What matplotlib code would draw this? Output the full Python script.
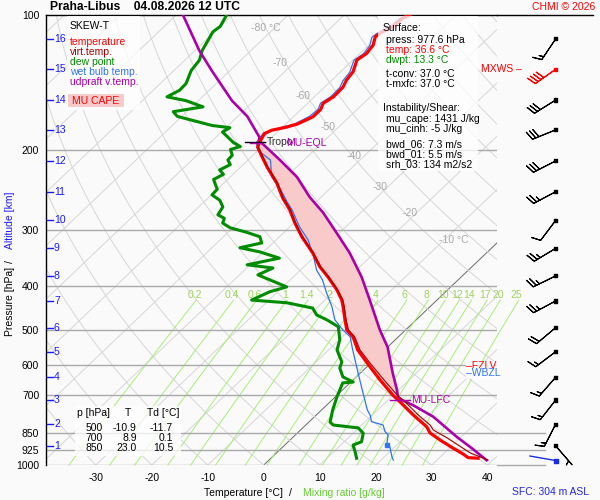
import numpy as np
import matplotlib
matplotlib.use("Agg")
import matplotlib.pyplot as plt
import matplotlib.transforms as mtransforms
from matplotlib.patches import Rectangle
from matplotlib.ticker import FixedLocator, NullLocator

plt.rcParams['font.family'] = ['Liberation Sans', 'DejaVu Sans']
plt.rcParams['font.size'] = 7.5

# --- sounding, pressure in hPa, temperatures in deg C ---
t_p = [966, 963, 945, 917, 880, 849, 822, 774, 724, 699, 647, 593, 555, 519, 501,
       476, 445, 430, 408, 382, 363, 338, 311, 290, 271, 255, 236, 218, 205, 196.6,
       191.6, 183.5, 180.4, 177.5, 174.6, 168.3, 162.2, 157.1, 152.1, 144.6, 139.6,
       133.6, 125.9, 121.8, 116.6, 111.7, 109.8, 106, 101.7, 100]
t_c = [37.0, 35.1, 33.5, 30.6, 26.8, 23.7, 21.9, 17.3, 12.5, 9.9, 4.8, -0.7, -4.8, -8.1, -10.5,
       -12.7, -15.5, -17.0, -19.8, -23.8, -27.1, -31.0, -36.0, -39.8, -43.2, -46.7, -50.6, -55.2, -58.5, -60.7,
       -61.3, -62.0, -61.4, -59.3, -57.9, -56.5, -56.5, -57.2, -56.6, -56.7, -57.4,
       -57.8, -59.3, -58.8, -59.2, -60.4, -60.2, -59.1, -59.0, -58.3]

tv_p = [975, 940, 871, 836, 815, 774, 724, 699, 647, 593, 555, 519, 501, 476, 445, 430, 408, 382,
        363, 338, 311, 290, 271, 255, 236, 218, 205, 196.6]
tv_c = [39.1, 34.6, 27.7, 23.7, 22.2, 18.2, 13.4, 10.7, 5.5, -0.2, -4.4, -7.8, -10.2, -12.5, -15.3, -16.8, -19.7, -23.7,
        -27.0, -30.9, -35.9, -39.7, -43.1, -46.6, -50.5, -55.1, -58.4, -60.6]

td_p = [966, 934, 903, 888, 850, 827, 815, 803, 755, 706, 681, 657, 654, 637, 609, 590, 555, 527, 493, 476,
        464, 448, 436, 430, 412, 402, 378, 365, 359, 347, 336, 329, 321, 311, 304, 297, 290, 283, 278, 267,
        258, 251, 244, 232, 226, 221, 215, 210, 205, 199, 196, 192, 182, 178, 176, 168, 164, 160, 155, 152,
        147, 142, 133, 126, 120, 109, 106, 100]
td_c = [15.3, 13.8, 12.2, 13.1, 11.8, 9.9, 4.9, 3.8, 2.0, 0.3, -0.5, -1.3, 0.4, -2.4, -4.6, -5.4, -8.5, -9.9, -12.6, -15.9,
        -18.7, -20.7, -26.3, -33.1, -31.4, -29.3, -36.7, -35.3, -40.5, -36.0, -40.7, -45.0, -42.0, -43.5, -46.7, -50.5, -52.7, -53.3, -55.1, -55.7,
        -57.5, -59.9, -60.0, -62.5, -61.7, -63.2, -62.3, -63.6, -63.7, -65.1, -63.9, -65.9, -69.8, -69.3, -72.9, -80.8, -82.4, -78.0, -82.2, -86.3,
        -85.3, -85.4, -86.9, -87.4, -88.7, -90.3, -90.0, -91.0]

tw_p = [975, 958, 911, 903, 858, 843, 815, 801, 774, 755, 681, 615, 555, 519, 501, 476, 445, 415, 388, 369,
        341, 316, 296, 271, 260, 244, 229, 210, 200, 192, 183, 177, 175, 168, 162, 157, 152, 145, 140, 134,
        126, 122, 117, 112, 110, 106, 102, 100]
tw_c = [22.2, 21.3, 19.1, 18.2, 16.6, 15.4, 13.8, 11.1, 9.6, 8.2, 3.5, -1.1, -5.7, -8.6, -11.2, -14.5, -17.5, -21.0, -24.2, -27.1,
        -30.6, -34.3, -38.2, -42.8, -45.2, -48.7, -52.6, -56.0, -60.0, -61.8, -62.3, -59.8, -58.5, -57.2, -57.0, -57.7, -57.1, -57.2, -57.9, -58.3,
        -59.8, -59.3, -59.7, -60.9, -60.7, -59.6, -59.5, -58.8]
tw_mark_p = 903

# most unstable parcel (virtual temperature)
pc_p = [976, 920, 865, 781, 736, 711, 681, 625, 547, 501, 430, 382, 338, 305, 275, 254, 229, 210, 190, 187,
        168, 155, 133, 120, 100]
pc_c = [38.9, 34.2, 29.1, 21.2, 15.4, 11.5, 9.7, 5.8, 0.0, -4.6, -12.0, -17.8, -24.4, -30.5, -36.7, -42.0, -48.1, -54.3, -61.7, -62.2,
        -68.3, -74.0, -83.2, -89.2, -98.8]

lfc_p = 716
eql_p = 192.2
tropo_p = 191.2
fzlv_p = 602
wbzl_p = 626

# altitude scale and winds
km_levels = list(range(1, 17))
km_p = [907, 811, 717, 638, 560, 495, 432, 380, 330, 286, 247, 211, 180, 154.5, 132, 113]
wind_dir = [139, 207, 218, 221, 233, 230, 242, 244, 239, 217, 242, 243, 248, 238, 235, 214]
wind_spd = [5, 15, 15, 15, 15, 20, 25, 25, 25, 10, 25, 30, 30, 30, 40, 15]
mxws_km = 15
sfc_p = 977.6
sfc_dir = 280

tab_p = [500, 700, 850]
tab_t = [-10.9, 8.9, 23.0]
tab_td = [-11.7, 0.1, 10.5]

mix_w = [0.2, 0.4, 0.6, 1, 1.4, 2, 3, 4, 6, 8, 10, 12, 14, 17, 20, 25]
plevs = [100, 200, 300, 400, 500, 600, 700, 850, 925, 1000]
xticks = [-30, -20, -10, 0, 10, 20, 30, 40]

SKEW = 36.64   # deg C shift per unit of ln(1000/p)


def skx(t, p):
    return np.asarray(t, float) + SKEW * np.log(1000.0 / np.asarray(p, float))


def td_from_w(w, p):
    e = w * p / (622.0 + w)
    a = np.log(e / 6.112)
    return 243.5 * a / (17.67 - a)


def fx(px):
    # pixel column -> axes fraction of the main axes
    return (px - 45.5) / 451.5


RED = '#ff0000'
VRED = '#a00000'
GREEN = '#008c00'
BLUE = '#2f74f0'
PURP = '#aa00aa'
BG = '#fafafa'

fig = plt.figure(figsize=(6, 5), dpi=100, facecolor=BG)
ax = fig.add_axes([45.5 / 600, 35 / 500, 451.5 / 600, 0.9])
ax.set_facecolor(BG)
ax.set_yscale('log')
ax.set_ylim(1000, 100)
ax.set_xlim((45.5 - 263.8) / 5.6, (497 - 263.8) / 5.6)
ax.yaxis.set_major_locator(FixedLocator(plevs))
ax.yaxis.set_minor_locator(NullLocator())
ax.set_yticklabels([str(p) for p in plevs])
ax.set_xticks(xticks)
ax.set_xticklabels([str(t) for t in xticks])
ax.tick_params(length=0, labelsize=7.5)
ax.tick_params(axis='y', pad=4.5)
ax.tick_params(axis='x', pad=6)
for s in ['right', 'bottom']:
    ax.spines[s].set_visible(False)
for s in ['left', 'top']:
    ax.spines[s].set_linewidth(1)

blend = mtransforms.blended_transform_factory(ax.transAxes, ax.transData)
pp = np.geomspace(1000, 100, 80)

# isotherms and dry adiabats
for t0 in range(-160, 60, 10):
    col = '#6a6a6a' if t0 == 0 else '#d6d6d6'
    ax.plot(skx(t0, pp), pp, color=col, lw=0.7, zorder=1)
for th in range(-40, 260, 10):
    tt = (th + 273.15) * (pp / 1000.0) ** 0.286 - 273.15
    ax.plot(skx(tt, pp), pp, color='#d6d6d6', lw=0.7, zorder=1)

# mixing ratio lines
pm = np.geomspace(1000, 430, 30)
for w in mix_w:
    ax.plot(skx(td_from_w(w, pm), pm), pm, color='#a6ee7a', lw=0.7, zorder=1, clip_on=False)
    ax.annotate('%g' % w, (skx(td_from_w(w, 419), 419), 419), xytext=(-4, 0),
                textcoords='offset points', ha='center', va='center',
                color='#9ed45a', fontsize=7.5, zorder=2, annotation_clip=False)

# pressure lines
for p in plevs[1:]:
    ax.axhline(p, color='#a9a9a9', lw=1, zorder=2)
for p in [850, 925, 1000]:
    ax.plot([1, fx(545)], [p, p], color='#a9a9a9', lw=1, transform=blend, clip_on=False, zorder=2)
ax.plot([1, fx(593)], [100, 100], color='k', lw=1, transform=blend, clip_on=False)

# CAPE area
pc_p_a, pc_c_a = np.array(pc_p), np.array(pc_c)
t_p_a, t_c_a = np.array(t_p), np.array(t_c)
mp = (pc_p_a <= 711) & (pc_p_a >= 190)
mt = (t_p_a <= 711) & (t_p_a >= 191)
cx = np.concatenate([skx(pc_c_a[mp], pc_p_a[mp]), skx(t_c_a[mt], t_p_a[mt])[::-1]])
cy = np.concatenate([pc_p_a[mp], t_p_a[mt][::-1]])
ax.fill(cx, cy, color='#f8caca', lw=0, zorder=3)

# profiles
ax.plot(skx(td_c, td_p), td_p, color=GREEN, lw=2.2, zorder=4)
ax.plot(skx(tw_c, tw_p), tw_p, color=BLUE, lw=0.9, zorder=4,
        marker='s', ms=3, markevery=[tw_p.index(tw_mark_p)])
ax.plot(skx(pc_c, pc_p), pc_p, color=PURP, lw=1.9, zorder=5)
ax.plot(skx(t_c, t_p), t_p, color=RED, lw=2.3, zorder=6)
ax.plot(skx(tv_c, tv_p), tv_p, color=VRED, lw=0.8, zorder=7)

# level markers
ax.plot([fx(245), fx(265)], [tropo_p, tropo_p], color='k', lw=1, transform=blend, zorder=8)
ax.text(fx(267), tropo_p, 'Tropo', color='#303030', va='center', transform=blend, zorder=8)
ax.plot([fx(250), fx(262)], [eql_p, eql_p], color=PURP, lw=1, transform=blend, zorder=8)
ax.text(fx(286), eql_p, 'MU-EQL', color=PURP, va='center', transform=blend, zorder=8)
ax.plot([fx(390), fx(410)], [lfc_p, lfc_p], color=PURP, lw=1, transform=blend, zorder=8)
ax.text(fx(411.5), lfc_p, 'MU-LFC', color=PURP, va='center', transform=blend, zorder=8)
ax.text(fx(466), fzlv_p, '\u2013FZLV', color=RED, va='center', transform=blend, zorder=8,
        clip_on=False, bbox=dict(facecolor='white', alpha=0.8, edgecolor='none', pad=0.2))
ax.text(fx(466), wbzl_p, '\u2013WBZL', color=BLUE, va='center', transform=blend, zorder=8,
        clip_on=False, bbox=dict(facecolor='white', alpha=0.8, edgecolor='none', pad=0.2))

# altitude scale
for k, p in zip(km_levels, km_p):
    ax.plot([fx(46.7), fx(52.7)], [p, p], color='#1a1aff', lw=1, transform=blend, zorder=8)
    ax.text(fx(54), p, str(k), color='#1a1aff', va='center', transform=blend, zorder=8)

# wind barbs
xb = fx(555.7)
d = np.deg2rad(wind_dir)
u = -np.array(wind_spd) * np.sin(d)
v = -np.array(wind_spd) * np.cos(d)
bcol = ['red' if k == mxws_km else 'black' for k in km_levels]
ax.barbs([xb] * len(km_p), km_p, u, v, transform=blend, clip_on=False, length=6,
         linewidth=0.8, barbcolor=bcol, flagcolor=bcol, zorder=8,
         sizes=dict(spacing=0.14, height=0.35))
ax.scatter([xb] * len(km_p), km_p, marker='s', s=5, c=bcol, transform=blend, clip_on=False, zorder=9)
sd = np.deg2rad(sfc_dir)
ax.annotate('', xy=(xb, sfc_p), xycoords=blend,
            xytext=(19 * np.sin(sd), 19 * np.cos(sd)), textcoords='offset points',
            arrowprops=dict(arrowstyle='-', color='#1a2ee0', lw=1, shrinkA=0, shrinkB=0))
ax.scatter([xb], [sfc_p], marker='s', s=6, c='#1a2ee0', transform=blend, clip_on=False, zorder=9)

# overlay in pixel coordinates for titles and text boxes
ov = fig.add_axes([0, 0, 1, 1])
ov.set_xlim(0, 600)
ov.set_ylim(500, 0)
ov.axis('off')
ov.patch.set_alpha(0)

ov.text(50, 7.5, 'Praha-Libus    04.08.2026 12 UTC', fontsize=8.7, fontweight='bold', va='center')
ov.text(595, 7.5, 'CHMI \u00a9 2026', color=RED, ha='right', va='center')

for lab, x, y in [('-80 \u00b0C', 266, 27.7), ('-70', 280.5, 62.7), ('-60', 303, 96), ('-50', 328, 126.7),
                  ('-40', 354, 156), ('-30', 380, 186.7), ('-20', 410, 213), ('-10 \u00b0C', 454, 240)]:
    ov.text(x, y, lab, color='#a8a8a8', ha='center', va='center')

# legend box
ov.add_patch(Rectangle((67, 16), 73, 94, facecolor='white', alpha=0.75, edgecolor='none'))
ov.text(70, 26, 'SKEW-T', va='center')
for i, (lab, c) in enumerate([('temperature', RED), ('virt.temp.', VRED), ('dew point', GREEN),
                              ('wet bulb temp.', BLUE), ('udpraft v.temp.', PURP)]):
    ov.text(70, 42.3 + 10 * i, lab, color=c, va='center')
ov.add_patch(Rectangle((68, 93.5), 56, 13, facecolor='#f8caca', edgecolor='none'))
ov.text(96, 100.5, 'MU CAPE', color=RED, ha='center', va='center')

# surface / instability box
ov.add_patch(Rectangle((378, 16), 100, 155, facecolor='white', alpha=0.75, edgecolor='none'))
info = [(382.7, 27.7, 'Surface:', 'black'),
        (386, 40, 'press: 977.6 hPa', 'black'),
        (386, 50, 'temp: 36.6 \u00b0C', RED),
        (386, 60, 'dwpt: 13.3 \u00b0C', GREEN),
        (386, 74, 't-conv: 37.0 \u00b0C', 'black'),
        (386, 84.3, 't-mxfc: 37.0 \u00b0C', 'black'),
        (382.7, 108.3, 'Instability/Shear:', 'black'),
        (386, 119.3, 'mu_cape: 1431 J/kg', 'black'),
        (386, 129.3, 'mu_cinh: -5 J/kg', 'black'),
        (386, 144.3, 'bwd_06: 7.3 m/s', 'black'),
        (386, 154, 'bwd_01: 5.5 m/s', 'black'),
        (386, 164.3, 'srh_03: 134 m2/s2', 'black')]
for x, y, s, c in info:
    ov.text(x, y, s, color=c, va='center')
ov.text(522, 69.3, 'MXWS \u2013', color=RED, ha='right', va='center')

# table box
ov.add_patch(Rectangle((75, 406), 106, 50, facecolor='white', alpha=0.75, edgecolor='none'))
ov.text(77, 413.3, 'p [hPa]', va='center')
ov.text(127.7, 413.3, 'T', ha='center', va='center')
ov.text(146.7, 413.3, 'Td [\u00b0C]', va='center')
for i, (p, t, td) in enumerate(zip(tab_p, tab_t, tab_td)):
    y = 428.3 + 10 * i
    ov.text(103, y, str(p), ha='right', va='center')
    ov.text(136.7, y, '%.1f' % t, ha='right', va='center')
    ov.text(173, y, '%.1f' % td, ha='right', va='center')

# axis titles
ov.text(283, 493, 'Temperature [\u00b0C]', ha='right', va='center')
ov.text(290, 493, '/', ha='center', va='center')
ov.text(303, 493, 'Mixing ratio [g/kg]', color='#66cc33', ha='left', va='center')
ov.text(10, 301, 'Pressure [hPa]', rotation=90, ha='center', va='center')
ov.text(10, 262, '/', rotation=90, ha='center', va='center')
ov.text(10, 220, 'Altitude [km]', rotation=90, color='#1a1aff', ha='center', va='center')
ov.text(512, 492, 'SFC: 304 m ASL', color='#2626e0', va='center')

fig.savefig('out.png', dpi=100, facecolor=fig.get_facecolor())
